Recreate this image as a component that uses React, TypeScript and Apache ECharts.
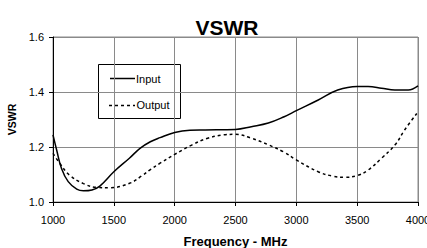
import React, { useEffect, useRef } from "react";
import * as echarts from "echarts";

const inputFreq = [1000, 1030, 1070, 1125, 1195, 1250, 1320, 1385, 1500, 1630, 1715, 1800, 1880, 2000, 2125, 2250, 2500, 2630, 2770, 2900, 3000, 3180, 3340, 3500, 3590, 3700, 3810, 3920, 4000];
const inputVswr = [1.244, 1.189, 1.122, 1.074, 1.047, 1.041, 1.044, 1.058, 1.11, 1.16, 1.195, 1.219, 1.234, 1.253, 1.261, 1.262, 1.264, 1.274, 1.287, 1.31, 1.332, 1.371, 1.407, 1.42, 1.42, 1.414, 1.407, 1.407, 1.422];
const outputFreq = [1000, 1055, 1135, 1250, 1360, 1470, 1630, 1730, 1800, 1880, 2000, 2140, 2265, 2400, 2500, 2630, 2770, 2900, 3000, 3180, 3300, 3400, 3500, 3590, 3700, 3810, 3890, 3990];
const outputVswr = [1.177, 1.141, 1.098, 1.067, 1.053, 1.052, 1.068, 1.095, 1.118, 1.141, 1.173, 1.207, 1.231, 1.244, 1.246, 1.232, 1.208, 1.181, 1.153, 1.11, 1.094, 1.09, 1.096, 1.116, 1.159, 1.207, 1.262, 1.322];
const seriesNames = ["Input", "Output"];

export default function App() {
  const ref = useRef<HTMLDivElement>(null);
  useEffect(() => {
    const chart = echarts.init(ref.current!, null, { renderer: "svg" });
    const font = "Liberation Sans, Arial, sans-serif";
    chart.setOption({
      animation: false,
      backgroundColor: "#fff",
      title: {
        text: "VSWR",
        left: 222,
        textAlign: "center",
        top: 12,
        textStyle: { fontFamily: font, fontWeight: "bold", fontSize: 21, color: "#000" },
      },
      grid: { left: 53, right: 9, top: 37, bottom: 46, outerBoundsMode: "none", containLabel: false },
      xAxis: {
        type: "value",
        min: 1000,
        max: 4000,
        interval: 500,
        name: "Frequency - MHz",
        nameLocation: "middle",
        nameGap: 33,
        nameTextStyle: { fontFamily: font, fontWeight: "bold", fontSize: 13, color: "#000" },
        axisLine: { show: true, lineStyle: { color: "#000", width: 1 } },
        axisTick: { show: true, length: 4, lineStyle: { color: "#000" } },
        axisLabel: {
          fontFamily: font,
          fontSize: 11,
          color: "#000",
          margin: 12,
          showMaxLabel: true,
          showMinLabel: true,
          formatter: (v: number) => String(Math.round(v)),
        },
        splitLine: { show: true, lineStyle: { color: "#8a8a8a", width: 1 } },
      },
      yAxis: {
        type: "value",
        min: 1.0,
        max: 1.6,
        interval: 0.2,
        name: "VSWR",
        nameLocation: "middle",
        nameGap: 32,
        nameTextStyle: { fontFamily: font, fontWeight: "bold", fontSize: 10.5, color: "#000" },
        axisLine: { show: true, lineStyle: { color: "#000", width: 1 } },
        axisTick: { show: true, length: 4, lineStyle: { color: "#000" } },
        axisLabel: {
          fontFamily: font,
          fontSize: 11,
          color: "#000",
          margin: 9,
          formatter: (v: number) => v.toFixed(1),
        },
        splitLine: { show: true, lineStyle: { color: "#8a8a8a", width: 1 } },
      },
      graphic: [
        {
          type: "rect",
          shape: { x: 53, y: 37, width: 365, height: 165 },
          style: { fill: "none", stroke: "#8a8a8a", lineWidth: 1 },
          silent: true,
          z: -1,
        },
        {
          type: "group",
          z: 100,
          children: [
            {
              type: "rect",
              shape: { x: 98.5, y: 64.5, width: 82, height: 54 },
              style: { fill: "#fff", stroke: "#000", lineWidth: 1 },
            },
            {
              type: "line",
              shape: { x1: 110, y1: 78.5, x2: 135, y2: 78.5 },
              style: { stroke: "#000", lineWidth: 1.5 },
            },
            {
              type: "text",
              x: 136,
              y: 78.5,
              style: { text: seriesNames[0], fontFamily: font, fontSize: 11, fill: "#000", verticalAlign: "middle", align: "left" },
            },
            {
              type: "line",
              shape: { x1: 109, y1: 105.5, x2: 135, y2: 105.5 },
              style: { stroke: "#000", lineWidth: 1.5, lineDash: [3, 3] },
            },
            {
              type: "text",
              x: 136.5,
              y: 105,
              style: { text: seriesNames[1], fontFamily: font, fontSize: 11, fill: "#000", verticalAlign: "middle", align: "left" },
            },
          ],
        },
      ],
      series: [
        {
          name: seriesNames[0],
          type: "line",
          smooth: 0.4,
          symbol: "none",
          data: inputFreq.map((f, i) => [f, inputVswr[i]]),
          lineStyle: { color: "#000", width: 1.5, type: "solid" },
          itemStyle: { color: "#000" },
        },
        {
          name: seriesNames[1],
          type: "line",
          smooth: 0.4,
          symbol: "none",
          data: outputFreq.map((f, i) => [f, outputVswr[i]]),
          lineStyle: { color: "#000", width: 1.5, type: [3, 3] },
          itemStyle: { color: "#000" },
        },
      ],
    });
    return () => chart.dispose();
  }, []);
  return <div ref={ref} style={{ width: 427, height: 248, position: "absolute", left: 0, top: 0 }} />;
}
